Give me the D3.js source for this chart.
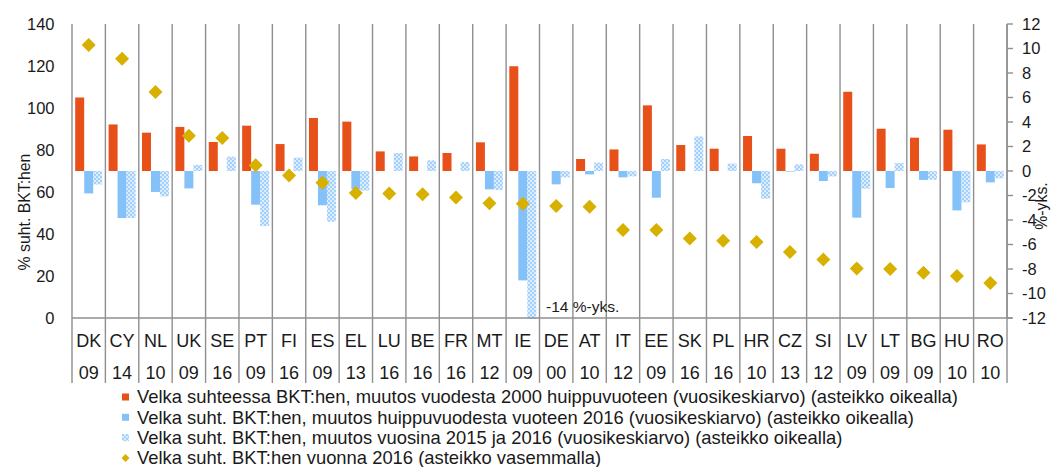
<!DOCTYPE html>
<html>
<head>
<meta charset="utf-8">
<script src="https://cdn.jsdelivr.net/npm/d3@7"></script>
<style>
  html, body { margin: 0; padding: 0; background: #fff; }
  svg { display: block; font-family: "Liberation Sans", Arial, sans-serif; }
</style>
</head>
<body>
<svg id="chart" width="1057" height="467"></svg>
<script>
// ---- data ----
const countries = ["DK","CY","NL","UK","SE","PT","FI","ES","EL","LU","BE","FR","MT","IE","DE","AT","IT","EE","SK","PL","HR","CZ","SI","LV","LT","BG","HU","RO"];
const peakYears = ["09","14","10","09","16","09","16","09","13","16","16","16","12","09","00","10","12","09","16","16","10","13","12","09","09","09","10","10"];
// change from 2000 to peak year (annual avg, right axis)
const changeToPeak = [6.0,3.8,3.13,3.6,2.37,3.7,2.2,4.33,4.03,1.6,1.19,1.47,2.34,8.55,0,0.98,1.76,5.36,2.12,1.82,2.86,1.82,1.41,6.47,3.45,2.72,3.37,2.17];
// change from peak year to 2016 (annual avg, right axis)
const changeFromPeak = [-1.83,-3.84,-1.71,-1.42,0,-2.75,0,-2.8,-1.47,0,0,0,-1.5,-8.93,-1.09,-0.28,-0.52,-2.18,0,0,-1.0,-0.05,-0.82,-3.81,-1.39,-0.73,-3.22,-0.93];
// change in 2015 and 2016 (annual avg, right axis)
const change1516 = [-1.1,-3.84,-2.07,0.5,1.17,-4.5,1.09,-4.14,-1.6,1.47,0.87,0.73,-1.55,-14,-0.52,0.68,-0.44,0.98,2.82,0.6,-2.26,0.54,-0.44,-1.44,0.65,-0.71,-2.56,-0.6];
// debt-to-GDP in 2016 (left axis)
const debt2016 = [130,123.5,107.6,86.8,85.7,72.7,67.8,64.4,59.5,59.3,58.9,57.4,54.6,54.4,53.3,53.0,41.9,41.9,37.9,36.8,36.2,31.4,27.8,23.6,23.3,21.6,20.0,16.7];
const leftTicks = [0,20,40,60,80,100,120,140];
const rightTicks = [-12,-10,-8,-6,-4,-2,0,2,4,6,8,10,12];
const seriesNames = [
  "Velka suhteessa BKT:hen, muutos vuodesta 2000 huippuvuoteen (vuosikeskiarvo) (asteikko oikealla)",
  "Velka suht. BKT:hen, muutos huippuvuodesta vuoteen 2016 (vuosikeskiarvo) (asteikko oikealla)",
  "Velka suht. BKT:hen, muutos vuosina 2015 ja 2016 (vuosikeskiarvo) (asteikko oikealla)",
  "Velka suht. BKT:hen vuonna 2016 (asteikko vasemmalla)"
];
const leftTitle = "% suht. BKT:hen";
const rightTitle = "%-yks.";
const annotation = "-14 %-yks.";

// ---- layout ----
const svg = d3.select("#chart");
const L = 72, R = 1007, T = 24, B = 318;
const RED = "#E8501A", BLUE = "#85C1F9", GOLD = "#D7B000", GRID = "#8f8f8f", INK = "#1a1a1a";

const defs = svg.append("defs");
const pat = defs.append("pattern").attr("id","hatch").attr("patternUnits","userSpaceOnUse")
  .attr("width",4).attr("height",4);
pat.append("rect").attr("width",4).attr("height",4).attr("fill","#dcedfd");
pat.append("rect").attr("width",2).attr("height",2).attr("fill","#a3d0fa");
pat.append("rect").attr("x",2).attr("y",2).attr("width",2).attr("height",2).attr("fill","#a3d0fa");
defs.append("clipPath").attr("id","plotclip").append("rect")
  .attr("x",L).attr("y",T).attr("width",R-L).attr("height",B-T+1);

const x = d3.scaleBand().domain(countries).range([L, R]).padding(0);
const xs = d3.scaleBand().domain([0,1,2]).range([0, x.bandwidth()]).paddingInner(0).paddingOuter(0.355);
const yL = d3.scaleLinear().domain([0,140]).range([B, T]);
const yR = d3.scaleLinear().domain([-12,12]).range([B, T]);

// vertical gridlines (category separators) extending through label area
const bounds = d3.range(countries.length + 1).map(i => L + i * x.step());
svg.append("g").selectAll("line").data(bounds).join("line")
  .attr("x1", d => d).attr("x2", d => d).attr("y1", T).attr("y2", 383)
  .attr("stroke", GRID).attr("stroke-width", 1.4);

// bars
const bars = svg.append("g").attr("clip-path","url(#plotclip)");
const seriesVals = [changeToPeak, changeFromPeak, change1516];
const fills = [RED, BLUE, "url(#hatch)"];
seriesVals.forEach((vals, si) => {
  bars.append("g").selectAll("rect").data(vals.map((v,i)=>({c:countries[i], v}))).join("rect")
    .attr("x", d => x(d.c) + xs(si))
    .attr("width", xs.bandwidth())
    .attr("y", d => Math.min(yR(d.v), yR(0)))
    .attr("height", d => Math.abs(yR(d.v) - yR(0)))
    .attr("fill", fills[si]);
});

// baseline
svg.append("line").attr("x1", L).attr("x2", R + 5).attr("y1", B).attr("y2", B)
  .attr("stroke", GRID).attr("stroke-width", 1.4);

// diamonds
const dh = 7;
svg.append("g").selectAll("path").data(debt2016.map((v,i)=>({c:countries[i], v}))).join("path")
  .attr("transform", d => `translate(${x(d.c) + x.bandwidth()/2},${yL(d.v)})`)
  .attr("d", `M0,${-dh}L${dh},0L0,${dh}L${-dh},0Z`)
  .attr("fill", GOLD);

// left axis labels
svg.append("g").selectAll("text").data(leftTicks).join("text")
  .attr("x", 54.5).attr("y", d => yL(d)).attr("dy","0.35em")
  .attr("text-anchor","end").attr("font-size", 16.5).attr("fill", INK)
  .text(d => d);

// right axis
const rAxis = svg.append("g");
rAxis.append("line").attr("x1", R).attr("x2", R).attr("y1", T).attr("y2", B).attr("stroke", GRID).attr("stroke-width", 1.4);
rAxis.selectAll("line.t").data(rightTicks).join("line").attr("class","t")
  .attr("x1", R).attr("x2", R + 6).attr("y1", d => yR(d)).attr("y2", d => yR(d))
  .attr("stroke", GRID).attr("stroke-width", 1.4);
rAxis.selectAll("text").data(rightTicks).join("text")
  .attr("x", 1022).attr("y", d => yR(d)).attr("dy","0.35em")
  .attr("font-size", 16.5).attr("fill", INK).text(d => d);

// axis titles
svg.append("text").attr("transform", "translate(30,212) rotate(-90)")
  .attr("text-anchor","middle").attr("font-size", 15.8).attr("fill", INK).text(leftTitle);
svg.append("text").attr("transform", "translate(1047,206) rotate(-90)")
  .attr("text-anchor","middle").attr("font-size", 15.8).attr("fill", INK).text(rightTitle);

// category labels
svg.append("g").selectAll("text").data(countries).join("text")
  .attr("x", d => x(d) + x.bandwidth()/2).attr("y", 340.5).attr("dy","0.35em")
  .attr("text-anchor","middle").attr("font-size", 18).attr("fill", INK).text(d => d);
svg.append("g").selectAll("text").data(peakYears).join("text")
  .attr("x", (d,i) => x(countries[i]) + x.bandwidth()/2).attr("y", 372.5).attr("dy","0.35em")
  .attr("text-anchor","middle").attr("font-size", 18).attr("fill", INK).text(d => d);

// annotation
svg.append("text").attr("x", 546).attr("y", 307).attr("dy","0.35em")
  .attr("font-size", 15.5).attr("fill", INK).text(annotation);

// legend
const lg = svg.append("g");
const rowsY = [397, 417.3, 437.6, 457.9];
seriesNames.forEach((name, i) => {
  const cy = rowsY[i];
  if (i < 3) {
    lg.append("rect").attr("x", 122).attr("y", cy - 3.5).attr("width", 7).attr("height", 7).attr("fill", fills[i]);
  } else {
    lg.append("path").attr("transform", `translate(125.5,${cy})`).attr("d","M0,-4L4,0L0,4L-4,0Z").attr("fill", GOLD);
  }
  lg.append("text").attr("x", 137).attr("y", cy).attr("dy","0.35em")
    .attr("font-size", 18.4).attr("fill", INK).text(name);
});
</script>
</body>
</html>
